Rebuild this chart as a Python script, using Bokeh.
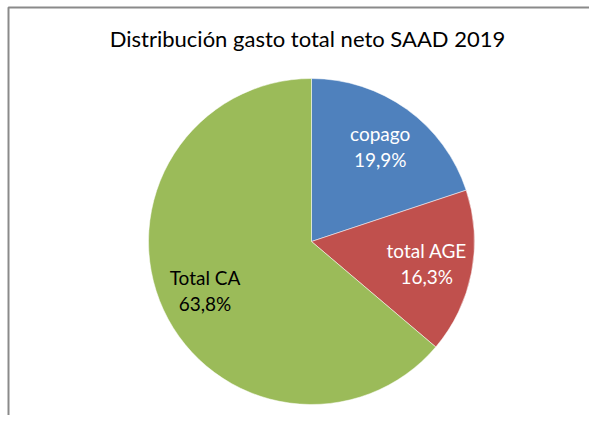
import math
from bokeh.plotting import figure
from bokeh.models import Range1d, ColumnDataSource
from bokeh.core.properties import value
from bokeh.embed import file_html
from bokeh.resources import INLINE

title_text = "Distribución gasto total neto SAAD 2019"
categories = ["copago", "total AGE", "Total CA"]
shares = [19.9, 16.3, 63.8]
colors = ["#4F81BD", "#C0504D", "#9BBB59"]
label_colors = ["white", "white", "black"]

W, H = 589, 415
R = 163            # pie radius in px units
cx_px, cy_px = 311, 241   # pie centre from frame's left/top
FONT = "Lato"

p = figure(width=W, height=H, output_backend="svg", toolbar_location=None,
           x_range=Range1d(-cx_px, W - cx_px), y_range=Range1d(cy_px - H, cy_px),
           min_border=0)
p.axis.visible = False
p.grid.visible = False
p.outline_line_color = None
p.background_fill_color = "white"

total = sum(shares)
starts, ends, lx, ly, labels = [], [], [], [], []
cum = 0.0
for c, s in zip(categories, shares):
    a0 = math.pi / 2 - 2 * math.pi * cum / total
    cum += s
    a1 = math.pi / 2 - 2 * math.pi * cum / total
    starts.append(a0)
    ends.append(a1)
    mid = (a0 + a1) / 2
    lx.append(0.72 * R * math.cos(mid))
    ly.append(0.72 * R * math.sin(mid))
    labels.append(f"{c}\n{s:.1f}%".replace(".", ","))

src = ColumnDataSource(dict(start=starts, end=ends, color=colors, x=lx, y=ly,
                            label=labels, tcolor=label_colors))
p.wedge(x=0, y=0, radius=R, start_angle="start", end_angle="end",
        direction="clock", fill_color="color", line_color="white", line_width=0.5,
        source=src)
p.text(x="x", y="y", text="label", text_color="tcolor", text_align="center",
       text_baseline="middle", text_font=value(FONT), text_font_size="19px",
       text_line_height=1.12, source=src)

# title
p.text(x=[-cx_px + 307], y=[cy_px - 38], text=[title_text], text_align="center",
       text_baseline="middle", text_font=value(FONT), text_font_size="22px",
       text_color="#000000")

# chart border (top and left visible; right/bottom lie outside the view)
bx0, by0 = -cx_px + 8, cy_px - 7
p.line(x=[bx0, bx0, W - cx_px + 5], y=[cy_px - H - 5, by0, by0],
       line_color="#8a8a8a", line_width=2)

open("out.html", "w").write(file_html(p, INLINE))
